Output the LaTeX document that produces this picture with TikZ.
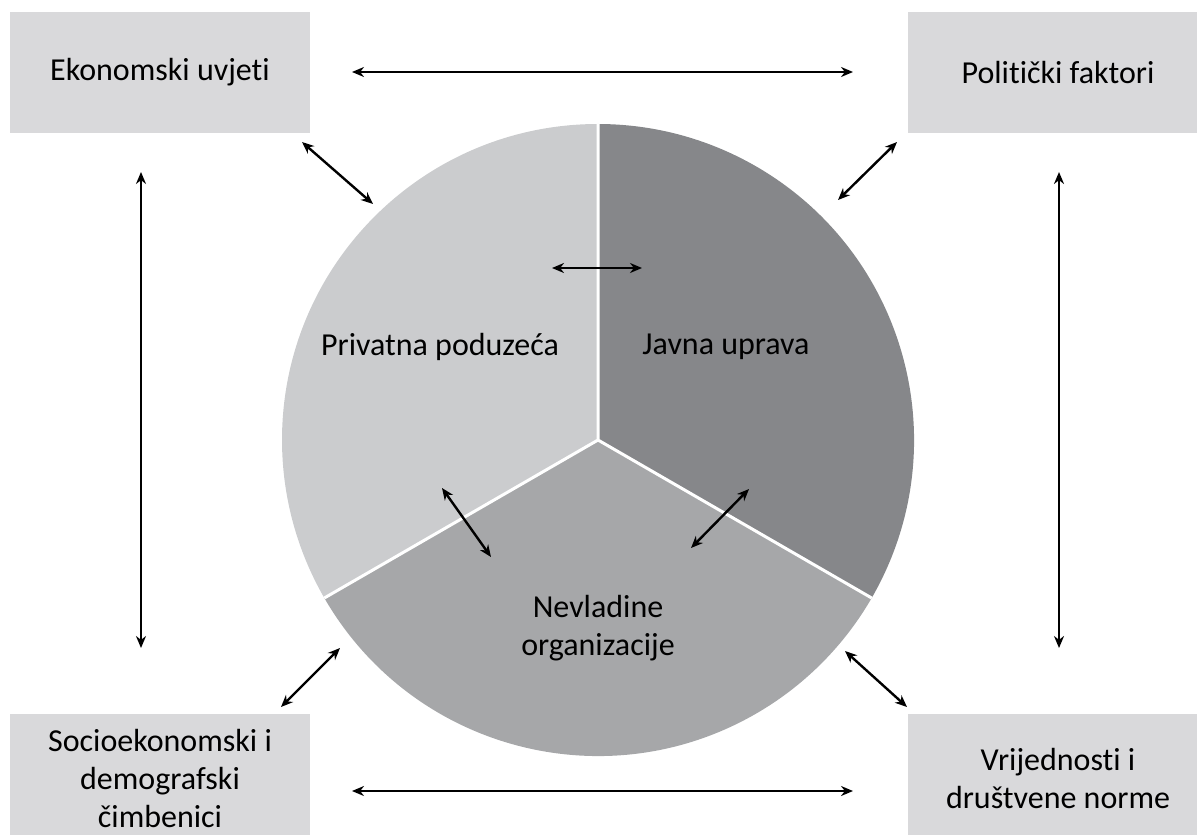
\documentclass[tikz,border=0pt]{standalone}
\usepackage{fontspec}
\setmainfont{Carlito}[Ligatures=NoCommon]
\usetikzlibrary{arrows.meta}
\definecolor{boxgray}{RGB}{217,217,219}
\definecolor{privgray}{RGB}{203,204,206}
\definecolor{javgray}{RGB}{134,135,138}
\definecolor{nvogray}{RGB}{166,167,169}

\begin{document}
\begin{tikzpicture}[x=0.5pt,y=0.5pt,>={Stealth[length=6pt,width=5pt]}]
    \useasboundingbox (0,0) rectangle (1197,-834);
    \coordinate (O) at (598,-440);
    % the three sectors
    \fill[privgray] (O) -- ++(90:158pt) arc[start angle=90,end angle=210,radius=158pt] -- cycle;
    \fill[nvogray] (O) -- ++(210:158pt) arc[start angle=210,end angle=330,radius=158pt] -- cycle;
    \fill[javgray] (O) -- ++(-30:158pt) arc[start angle=-30,end angle=90,radius=158pt] -- cycle;
    \draw[white,line width=1.5pt] (O) -- ++(90:158pt) (O) -- ++(210:158pt) (O) -- ++(330:158pt);
    \begin{scope}[every node/.style={fill=boxgray,minimum width=150pt,minimum height=60.5pt,align=center,font=\fontsize{16}{19}\selectfont}]
        \node (E) at (160,-72.5) {Ekonomski uvjeti};
        \node (P) at (1058,-72.5) {Politički faktori};
        \node[minimum height=64pt] (S) at (160,-778) {Socioekonomski i\\demografski\\čimbenici};
        \node[minimum height=64pt] (V) at (1058,-778) {Vrijednosti i\\društvene norme};
    \end{scope}
    \begin{scope}[every node/.style={align=center,font=\fontsize{16}{19}\selectfont}]
        \node (PP) at (440,-347) {Privatna poduzeća};
        \node (JU) at (726,-347) {Javna uprava};
        \node (NO) at (598,-628) {Nevladine\\organizacije};
    \end{scope}
    % arrow ends
    \coordinate (E1) at (352,-72);
    \coordinate (P1) at (853,-72);
    \coordinate (E2) at (141,-172);
    \coordinate (S1) at (141,-648);
    \coordinate (P2) at (1059,-172);
    \coordinate (V1) at (1059,-648);
    \coordinate (S2) at (352,-791);
    \coordinate (V2) at (853,-791);
    \coordinate (E3) at (302,-142);
    \coordinate (C1) at (373,-204);
    \coordinate (P3) at (897,-142);
    \coordinate (C2) at (838,-200);
    \coordinate (C3) at (340,-648);
    \coordinate (S3) at (281,-707);
    \coordinate (C4) at (845,-651);
    \coordinate (V3) at (907,-707);
    \coordinate (PP1) at (552,-268);
    \coordinate (JU1) at (642,-268);
    \coordinate (PP2) at (442,-488);
    \coordinate (NO1) at (491,-557);
    \coordinate (JU2) at (749,-489);
    \coordinate (NO2) at (691,-548);
    \begin{scope}[every edge/.style={draw=black,<->,line width=1.2pt}]
        \draw (E1) edge (P1);
        \draw (E2) edge (S1);
        \draw (P2) edge (V1);
        \draw (S2) edge (V2);
        \draw (E3) edge (C1);
        \draw (P3) edge (C2);
        \draw (C3) edge (S3);
        \draw (C4) edge (V3);
        \draw (PP1) edge (JU1);
        \draw (PP2) edge (NO1);
        \draw (JU2) edge (NO2);
    \end{scope}
\end{tikzpicture}
\end{document}
